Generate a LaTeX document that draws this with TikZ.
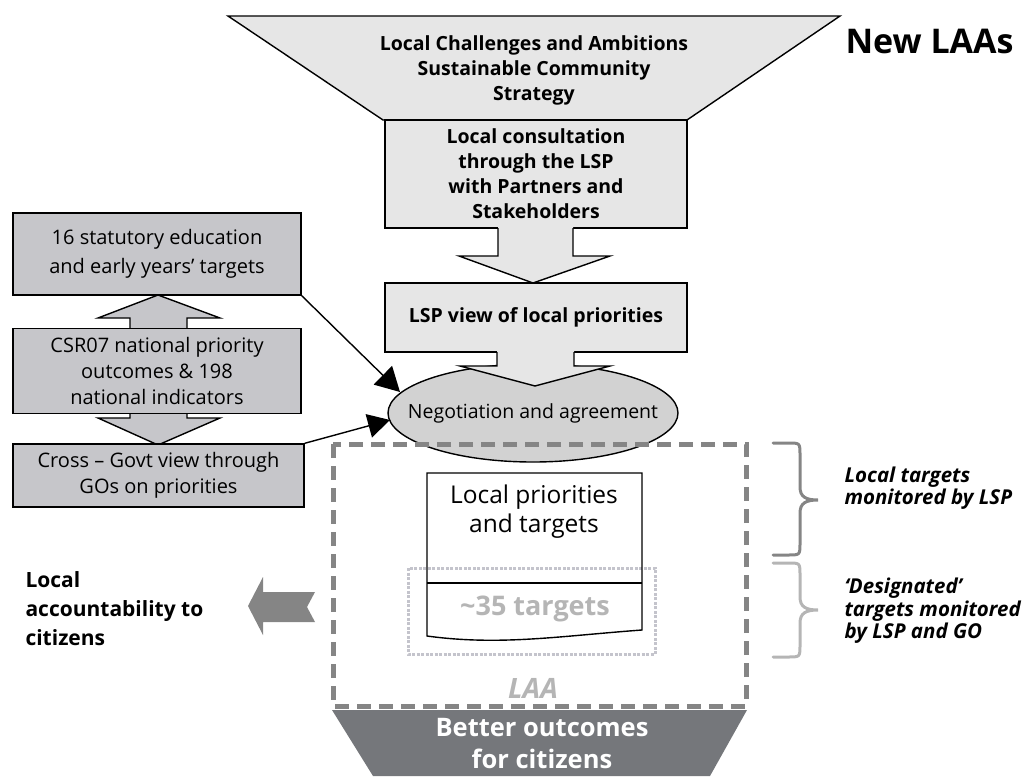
\documentclass[tikz,border=0pt]{standalone}
\usepackage{fontspec}
\setmainfont{Open Sans}
\usetikzlibrary{arrows.meta,shapes.geometric}
\definecolor{lightfill}{HTML}{E6E6E6}
\definecolor{ellfill}{HTML}{D2D2D2}
\definecolor{leftfill}{HTML}{C6C6CA}
\definecolor{laagrey}{HTML}{858585}
\definecolor{darkgrey}{HTML}{75777B}
\definecolor{palegrey}{HTML}{B5B5B5}
\definecolor{dotgrey}{HTML}{C4C4CC}
\newcommand{\fsz}[2]{\fontsize{#1}{#2}\selectfont}
\begin{document}
\begin{tikzpicture}[x=1pt,y=-1pt,
  outl/.style={draw=black,line width=1.4pt},
  lightbox/.style={outl,fill=lightfill,minimum width=302pt,inner sep=0pt,align=center,font=\bfseries\fsz{19.5}{25}},
  leftbox/.style={outl,fill=leftfill,minimum width=288pt,inner sep=0pt,align=center,font=\fsz{20}{26}},
  conn/.style={line width=1.4pt,-{Triangle[length=24pt,width=26pt]}},
  bracestyle/.style={line width=3pt,line cap=round}
]
\useasboundingbox (0,0) rectangle (1035,776);

% top funnel
\draw[outl,fill=lightfill] (228,16) -- (840,16) -- (687,120) -- (383,120) -- cycle;
\node[font=\bfseries\fsz{19.5}{25},align=center] (funtext) at (534,70)
  {Local Challenges and Ambitions\\Sustainable Community\\Strategy};
\node[font=\bfseries\fsz{34}{38},anchor=west] (newlaa) at (842,41) {New LAAs};

% consultation box
\node[lightbox,minimum height=108pt] (consult) at (536,174)
  {Local consultation\\through the LSP\\with Partners and\\Stakeholders};
% LSP view box
\node[lightbox,minimum height=69pt] (lsp) at (536,317.5) {LSP view of local priorities};

% block arrow consult -> lsp
\fill[lightfill] (498,226.5) -- (498,256) -- (459,256) -- (533,283) -- (610,256) -- (573,256) -- (573,226.5) -- cycle;
\draw[outl,line join=miter] (498,228) -- (498,256) -- (459,256) -- (533,283) -- (610,256) -- (573,256) -- (573,228);

% left double arrow
\draw[outl,fill=leftfill] (158,295) -- (220,318) -- (187,318) -- (187,418) -- (220,418) -- (158,445)
  -- (98,418) -- (130,418) -- (130,318) -- (98,318) -- cycle;

% left boxes
\node[leftbox,minimum height=82pt,font=\fsz{20}{29}] (b1) at (157,254)
  {16 statutory education\\and early years’ targets};
\node[leftbox,minimum height=85pt] (b2) at (157,371)
  {CSR07 national priority\\outcomes \& 198\\national indicators};
\node[leftbox,minimum height=63pt,minimum width=291pt] (b3) at (158.5,475.5)
  {Cross – Govt view through\\GOs on priorities};

% bottom trapezoid
\fill[darkgrey] (332,710) -- (747,710) -- (710,776) -- (373,776) -- cycle;
\node[font=\bfseries\fsz{25.5}{32},text=white,align=center] (better) at (542,744)
  {Better outcomes\\for citizens};

% negotiation ellipse
\draw[outl,fill=ellfill] (533,413) ellipse [x radius=145, y radius=49];
\node[font=\fsz{19.5}{24}] (neg) at (533,413) {Negotiation and agreement};
\coordinate (negin1) at (400,392);
\coordinate (negin2) at (390,420);

% block arrow lsp -> negotiation
\fill[lightfill] (497,350.5) -- (497,366) -- (460,366) -- (535,386) -- (610,366) -- (574,366) -- (574,350.5) -- cycle;
\draw[outl,line join=miter] (497,352) -- (497,366) -- (460,366) -- (535,386) -- (610,366) -- (574,366) -- (574,352);

% connectors
\draw[conn] (b1.south east) -- (negin1);
\draw[line width=1.4pt,-{Triangle[length=22pt,width=24pt]}] (b3.north east) -- (negin2);

% LAA dashed box
\draw[laagrey,line width=5pt,dash pattern=on 14pt off 8pt] (333,444) rectangle (746,706);
\node[font=\bfseries\itshape\fsz{28}{30},text=palegrey] (laa) at (533,688) {LAA};

% local priorities box
\fill[white] (427,473) -- (642,473) -- (642,630) .. controls (560,636) and (500,646) .. (427,636) -- cycle;
\draw[dotgrey,line width=3pt,dash pattern=on 3pt off 1.5pt] (408,568) rectangle (655,654);
\draw[outl] (427,473) -- (642,473) -- (642,630) .. controls (560,636) and (500,646) .. (427,636) -- cycle;
\draw[outl] (427,583) -- (642,583);
\node[font=\fsz{24.5}{29},align=center] (lp) at (534,512) {Local priorities\\and targets};
\node[font=\bfseries\fsz{27}{30},text=palegrey] (t35) at (535,609) {\textasciitilde35 targets};

% braces
\draw[bracestyle,draw=laagrey] (773,443) -- (788,443) .. controls (800,443) and (800,443) .. (800,455)
  -- (800,487) .. controls (800,497) and (806,500) .. (818,500)
  .. controls (806,500) and (800,503) .. (800,513) -- (800,543)
  .. controls (800,555) and (800,555) .. (788,555) -- (773,555);
\draw[bracestyle,draw=palegrey] (773,563) -- (788,563) .. controls (800,563) and (800,563) .. (800,575)
  -- (800,597) .. controls (800,607) and (806,610) .. (818,610)
  .. controls (806,610) and (800,613) .. (800,623) -- (800,645)
  .. controls (800,657) and (800,657) .. (788,657) -- (773,657);
\node[font=\bfseries\itshape\fsz{20.5}{22},align=left,anchor=west] (loctxt) at (841,488)
  {Local targets\\monitored by LSP};
\node[font=\bfseries\itshape\fsz{20.5}{22.5},align=left,anchor=west] (destxt) at (841,611)
  {‘Designated’\\targets monitored\\by LSP and GO};

% local accountability
\node[font=\bfseries\fsz{21}{29},align=left,anchor=west] (acc) at (22,609)
  {Local\\accountability to\\citizens};
\fill[laagrey] (248,606) -- (263,577) -- (263,592) -- (315,592) -- (307,607) -- (315,622)
  -- (263,622) -- (263,635) -- cycle;
\end{tikzpicture}
\end{document}
